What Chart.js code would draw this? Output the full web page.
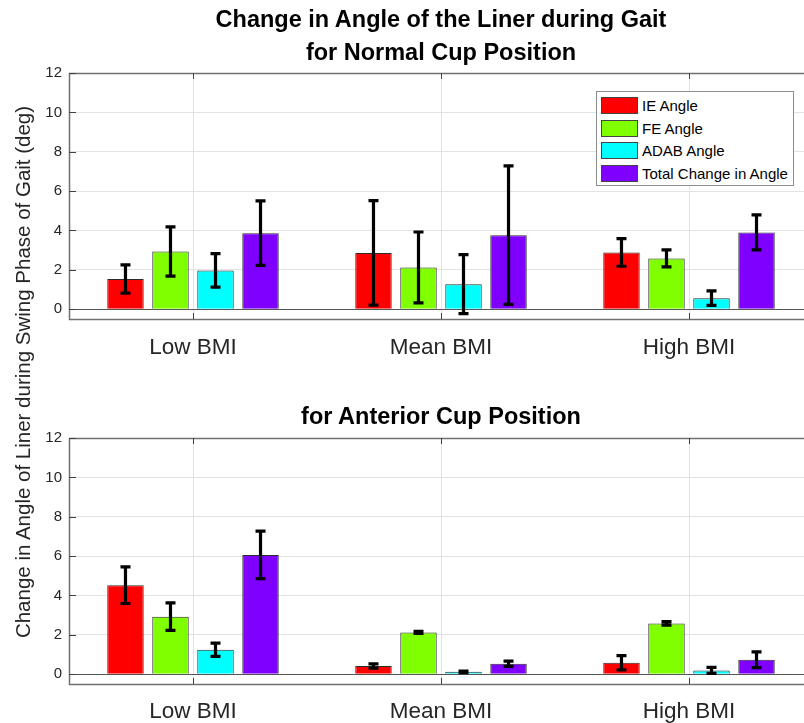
<!DOCTYPE html>
<html>
<head>
<meta charset="utf-8">
<script src="https://cdn.jsdelivr.net/npm/chart.js@4/dist/chart.umd.min.js"></script>
<style>
    html, body { margin: 0; padding: 0; background: #fff; overflow: hidden; }
    #wrap { position: relative; width: 804px; height: 723px; overflow: hidden; font-family: "Liberation Sans", Arial, sans-serif; }
    #wrap canvas { position: absolute; left: 0; }
    .title { position: absolute; left: 69px; width: 744px; text-align: center; font-weight: bold; font-size: 23.5px; color: #000; line-height: 26px; }
    #ylabel { position: absolute; left: 23px; top: 372px; width: 700px; margin-left: -350px; text-align: center; font-size: 20.5px; line-height: 22px; margin-top: -11px; color: #262626; transform: rotate(-90deg); white-space: nowrap; }
    #legend { position: absolute; left: 596px; top: 91px; width: 198px; height: 95px; border: 1px solid #8c8c8c; background: #fff; box-sizing: border-box; padding-top: 2px; }
    .leg-row { display: flex; align-items: center; height: 22.7px; }
    .leg-swatch { width: 37px; height: 17px; margin-left: 4px; border: 1px solid #444; box-sizing: border-box; }
    .leg-text { margin-left: 4px; font-size: 15px; color: #000; }
</style>
</head>
<body>
<div id="wrap">
    <canvas id="normal-chart" width="813" height="370" style="top:0px"></canvas>
    <canvas id="anterior-chart" width="813" height="343" style="top:380px"></canvas>
    <div class="title" style="top:6px">Change in Angle of the Liner during Gait</div>
    <div class="title" style="top:39px">for Normal Cup Position</div>
    <div class="title" style="top:403px">for Anterior Cup Position</div>
    <div id="ylabel">Change in Angle of Liner during Swing Phase of Gait (deg)</div>
    <div id="legend"></div>
</div>
<script>
// --- Data ---
const categories = ['Low BMI', 'Mean BMI', 'High BMI'];
const seriesLabels = ['IE Angle', 'FE Angle', 'ADAB Angle', 'Total Change in Angle'];
const seriesColors = ['#ff0000', '#80ff00', '#00ffff', '#8000ff'];
const yTicks = [0, 2, 4, 6, 8, 10, 12];

// Normal cup position
const normalIE = [1.53, 2.86, 2.88];
const normalFE = [2.93, 2.12, 2.58];
const normalADAB = [1.97, 1.27, 0.56];
const normalTotal = [3.86, 3.76, 3.90];
const normalIEErr = [0.72, 2.66, 0.70];
const normalFEErr = [1.25, 1.80, 0.43];
const normalADABErr = [0.85, 1.50, 0.37];
const normalTotalErr = [1.64, 3.52, 0.89];

// Anterior cup position
const anteriorIE = [4.52, 0.41, 0.58];
const anteriorFE = [2.92, 2.12, 2.58];
const anteriorADAB = [1.24, 0.12, 0.19];
const anteriorTotal = [6.06, 0.53, 0.73];
const anteriorIEErr = [0.93, 0.11, 0.36];
const anteriorFEErr = [0.70, 0.05, 0.09];
const anteriorADABErr = [0.34, 0.04, 0.15];
const anteriorTotalErr = [1.21, 0.13, 0.40];

// --- Legend ---
const legendBox = document.getElementById('legend');
seriesLabels.forEach((label, i) => {
    const row = document.createElement('div');
    row.className = 'leg-row';
    row.innerHTML = '<div class="leg-swatch" style="background:' + seriesColors[i] + '"></div><div class="leg-text">' + label + '</div>';
    legendBox.appendChild(row);
});

// --- Plugins: frame / baseline and error bars ---
const frameColor = '#707070';

const axesFrame = {
    id: 'axesFrame',
    beforeDatasetsDraw(chart) {
        const { ctx, chartArea: a, scales: { y } } = chart;
        ctx.save();
        // zero baseline
        const y0 = y.getPixelForValue(0);
        ctx.strokeStyle = '#555';
        ctx.lineWidth = 1;
        ctx.beginPath();
        ctx.moveTo(a.left, Math.round(y0) + 0.5);
        ctx.lineTo(a.right, Math.round(y0) + 0.5);
        ctx.stroke();
        ctx.restore();
    },
    afterDraw(chart) {
        const { ctx, chartArea: a, scales: { x, y } } = chart;
        ctx.save();
        ctx.strokeStyle = frameColor;
        ctx.lineWidth = 1.5;
        ctx.strokeRect(a.left + 0.5, a.top + 0.5, a.right - a.left, a.bottom - a.top);
        // inward tick marks
        ctx.lineWidth = 1;
        ctx.strokeStyle = '#404040';
        ctx.beginPath();
        x.ticks.forEach((t, i) => {
            const px = Math.round(x.getPixelForTick(i)) + 0.5;
            ctx.moveTo(px, a.bottom); ctx.lineTo(px, a.bottom - 6);
            ctx.moveTo(px, a.top); ctx.lineTo(px, a.top + 6);
        });
        y.ticks.forEach(t => {
            const py = Math.round(y.getPixelForValue(t.value)) + 0.5;
            ctx.moveTo(a.left, py); ctx.lineTo(a.left + 7, py);
        });
        ctx.stroke();
        ctx.restore();
    }
};

const errorBars = {
    id: 'errorBars',
    afterDatasetsDraw(chart) {
        const { ctx, scales: { y } } = chart;
        ctx.save();
        ctx.strokeStyle = '#000';
        ctx.lineWidth = 3.2;
        chart.data.datasets.forEach((ds, di) => {
            const meta = chart.getDatasetMeta(di);
            meta.data.forEach((bar, i) => {
                const v = ds.data[i];
                const e = ds.errors[i];
                const top = y.getPixelForValue(v + e);
                const bot = y.getPixelForValue(v - e);
                const cx = bar.x;
                ctx.beginPath();
                ctx.moveTo(cx, top); ctx.lineTo(cx, bot);
                ctx.moveTo(cx - 5, top); ctx.lineTo(cx + 5, top);
                ctx.moveTo(cx - 5, bot); ctx.lineTo(cx + 5, bot);
                ctx.stroke();
            });
        });
        ctx.restore();
    }
};

function makeChart(canvasId, values, errors, padTop, axisHeight, labelPad) {
    const canvas = document.getElementById(canvasId);
    return new Chart(canvas, {
        type: 'bar',
        data: {
            labels: categories,
            datasets: seriesLabels.map((label, i) => ({
                label: label,
                data: values[i],
                errors: errors[i],
                backgroundColor: seriesColors[i],
                borderColor: '#2b2b2b',
                borderWidth: 1,
                categoryPercentage: 0.726,
                barPercentage: 0.81,
            }))
        },
        options: {
            responsive: false,
            animation: false,
            devicePixelRatio: 1,
            layout: { padding: { top: padTop, left: 0, right: 0, bottom: 0 } },
            scales: {
                x: {
                    grid: { offset: false, color: '#e3e3e3', drawTicks: false },
                    border: { display: false },
                    ticks: { color: '#262626', padding: labelPad, font: { family: 'Liberation Sans', size: 22.5 } },
                    afterFit: (s) => { s.height = axisHeight; }
                },
                y: {
                    min: -0.5,
                    max: 12,
                    afterBuildTicks: (s) => { s.ticks = yTicks.map(v => ({ value: v })); },
                    grid: { color: '#e3e3e3', drawTicks: false },
                    border: { display: false },
                    ticks: { color: '#262626', padding: 7, font: { family: 'Liberation Sans', size: 15 } },
                    afterFit: (s) => { s.width = 69; }
                }
            },
            plugins: {
                legend: { display: false },
                tooltip: { enabled: false }
            }
        },
        plugins: [axesFrame, errorBars]
    });
}

makeChart('normal-chart',
    [normalIE, normalFE, normalADAB, normalTotal],
    [normalIEErr, normalFEErr, normalADABErr, normalTotalErr],
    73, 51, 15);

makeChart('anterior-chart',
    [anteriorIE, anteriorFE, anteriorADAB, anteriorTotal],
    [anteriorIEErr, anteriorFEErr, anteriorADABErr, anteriorTotalErr],
    58, 39, 14);
</script>
</body>
</html>
